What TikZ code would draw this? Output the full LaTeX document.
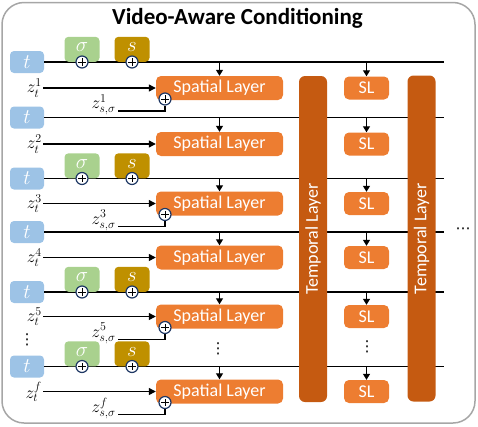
\documentclass[tikz,border=0pt]{standalone}
\usepackage[no-math]{fontspec}
\setmainfont{Carlito}
\setsansfont{Carlito}
\newfontfamily\symfont{DejaVu Sans}
\usetikzlibrary{arrows.meta}
\definecolor{tblue}{HTML}{9DC3E6}
\definecolor{sgreen}{HTML}{A9D18E}
\definecolor{sgold}{HTML}{BF9000}
\definecolor{sorange}{HTML}{ED7D31}
\definecolor{tbrown}{HTML}{C55A11}
\definecolor{bordergray}{HTML}{A6A6A6}
\definecolor{navy}{HTML}{1F3864}
\begin{document}
\begin{tikzpicture}[x=1pt,y=-1pt,
  tbox/.style={fill=tblue, rounded corners=4pt, minimum width=34pt, minimum height=22pt, inner sep=0pt, text=white, font=\fontsize{22}{22}\selectfont},
  sgbox/.style={rounded corners=4pt, minimum width=35pt, minimum height=25pt, inner sep=0pt, text=white, anchor=south, font=\fontsize{20}{20}\selectfont},
  spat/.style={fill=sorange, rounded corners=5pt, minimum width=127pt, minimum height=24pt, inner sep=0pt, text=white, font=\fontsize{18}{18}\selectfont},
  slbox/.style={fill=sorange, rounded corners=5pt, minimum width=45pt, minimum height=23pt, inner sep=0pt, text=white, font=\fontsize{18}{18}\selectfont},
  temp/.style={fill=tbrown, rounded corners=6pt, minimum width=326pt, minimum height=28pt, inner sep=0pt, text=white, font=\fontsize{18}{18}\selectfont, rotate=90},
  plusc/.style={circle, fill=white, draw=navy, line width=1.2pt, minimum size=12pt, inner sep=0pt,
    path picture={\draw[black, line width=1pt] ([xshift=2.3pt]path picture bounding box.west) -- ([xshift=-2.3pt]path picture bounding box.east) ([yshift=-2.3pt]path picture bounding box.north) -- ([yshift=2.3pt]path picture bounding box.south);}},
  zlab/.style={inner sep=1pt, font=\fontsize{17}{17}\selectfont},
  rowline/.style={line width=1.5pt},
  zarrow/.style={line width=1.2pt, -{Triangle[length=7pt,width=7pt]}},
  downarr/.style={line width=1.2pt, -{Triangle[length=6pt,width=7pt]}},
  thin/.style={line width=1.2pt},
  dotsty/.style={font=\symfont\fontsize{15}{15}\selectfont, inner sep=0pt}
]
\useasboundingbox (0,0) rectangle (478,426);
\draw[bordergray, line width=1.5pt, rounded corners=22pt] (2,2.5) rectangle (475,423);
\node[font=\bfseries\fontsize{23}{26}\selectfont] (title) at (237.5,18) {Video-Aware Conditioning};

\foreach \i/\L/\S/\k/\h in {1/62/88/1/1, 2/117.5/144/2/0, 3/178.5/203.5/3/1, 4/232/257.5/4/0, 5/292/316.5/5/1, 6/366.5/391.5/f/1}{
  \node[tbox] (t\i) at (27,\L) {$t$};
  \coordinate (e\i) at (444,\L);
  \draw[rowline] (t\i.east) -- (e\i);
  \node[spat] (sp\i) at (219.5,\S) {Spatial Layer};
  \node[slbox] (sl\i) at (366.5,\S) {SL};
  \node[zlab, anchor=east] (zt\i) at (43,\S) {$z_t^{\k}$};
  \draw[zarrow] (zt\i.east) -- (sp\i.west);
  \draw[downarr] (sp\i.north |- e\i) -- (sp\i.north);
  \draw[downarr] (sl\i.north |- e\i) -- (sl\i.north);
  \ifnum\h=1
    \node[sgbox, fill=sgreen] (sg\i) at (82,\L) {\raisebox{4pt}{$\sigma$}};
    \node[sgbox, fill=sgold] (ss\i) at (132,\L) {\raisebox{4pt}{$s$}};
    \node[plusc] (pa\i) at (sg\i.south) {};
    \node[plusc] (pb\i) at (ss\i.south) {};
    \node[zlab, anchor=east] (zs\i) at (117,\S+17) {$z_{s,\sigma}^{\k}$};
    \node[plusc] (pc\i) at (165,\S+11) {};
    \coordinate (c\i) at (118,\S+23);
    \draw[thin] (c\i) -| (pc\i.south);
  \fi
}
\node[temp] (tl1) at (313,239) {Temporal Layer};
\node[temp] (tl2) at (421.5,238.5) {Temporal Layer};
\node[dotsty] (d1) at (27,340) {⋮};
\node[dotsty] (d2) at (218,349) {⋮};
\node[dotsty] (d3) at (367,347) {⋮};
\node[dotsty] (d4) at (463,231) {⋯};
\end{tikzpicture}
\end{document}
